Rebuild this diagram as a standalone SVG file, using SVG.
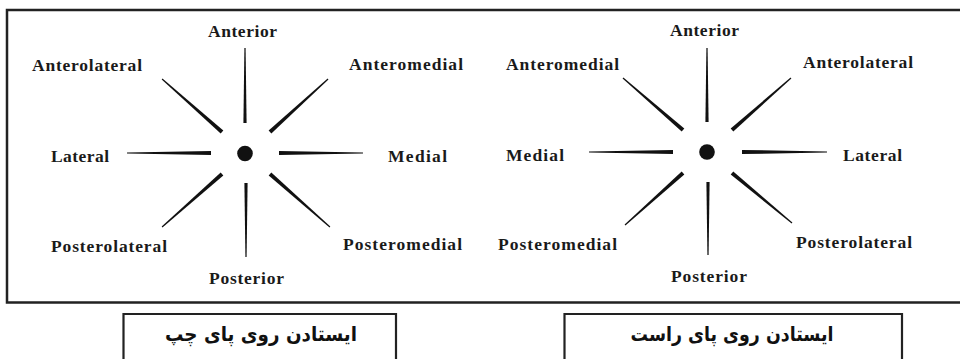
<svg xmlns="http://www.w3.org/2000/svg" width="960" height="359" viewBox="0 0 960 359">
<style>
.lbl{font-family:"Liberation Serif","Times New Roman",serif;font-size:17.5px;font-weight:bold;fill:#1a1a1a}
.fa{font-family:"DejaVu Sans","Noto Sans",sans-serif;font-size:20px;font-weight:bold;fill:#111;text-anchor:middle}
.frame{fill:none;stroke:#222;stroke-width:2.5}
.box{fill:none;stroke:#222;stroke-width:2.2}
.dot{fill:#111}
.spoke{fill:#111}
</style>
<rect width="960" height="359" fill="#fff"/>
<path class="frame" d="M962,10 H7 V302.5 H962"/>

<g id="left-diagram">
  <circle id="left-center" class="dot" cx="245" cy="153.5" r="7.8"/>
  <g id="left-spokes">
    <path class="spoke" transform="translate(245,123) rotate(-90)" d="M0,-1.6 L75,-0.6 L75,0.6 L0,1.6 Z"/>
    <path class="spoke" transform="translate(246,183) rotate(90)" d="M0,-1.6 L74,-0.6 L74,0.6 L0,1.6 Z"/>
    <path class="spoke" transform="translate(211,153) rotate(180)" d="M0,-2 L84,-0.6 L84,0.6 L0,2 Z"/>
    <path class="spoke" transform="translate(279,153)" d="M0,-2 L84,-0.6 L84,0.6 L0,2 Z"/>
    <path class="spoke" transform="translate(222,132) rotate(-138.5)" d="M0,-2 L80,-0.6 L80,0.6 L0,2 Z"/>
    <path class="spoke" transform="translate(270,132) rotate(-42.4)" d="M0,-2 L78.6,-0.6 L78.6,0.6 L0,2 Z"/>
    <path class="spoke" transform="translate(222,174) rotate(138.5)" d="M0,-2 L80,-0.6 L80,0.6 L0,2 Z"/>
    <path class="spoke" transform="translate(270,174) rotate(41.5)" d="M0,-2 L80,-0.6 L80,0.6 L0,2 Z"/>
  </g>
  <g id="left-labels">
    <text class="lbl" x="208" y="37" textLength="69" lengthAdjust="spacing">Anterior</text>
    <text class="lbl" x="32" y="70.5" textLength="110" lengthAdjust="spacing">Anterolateral</text>
    <text class="lbl" x="349" y="70" textLength="114" lengthAdjust="spacing">Anteromedial</text>
    <text class="lbl" x="51" y="162" textLength="58" lengthAdjust="spacing">Lateral</text>
    <text class="lbl" x="388" y="162" textLength="59" lengthAdjust="spacing">Medial</text>
    <text class="lbl" x="51" y="252" textLength="116" lengthAdjust="spacing">Posterolateral</text>
    <text class="lbl" x="343" y="250" textLength="119" lengthAdjust="spacing">Posteromedial</text>
    <text class="lbl" x="209" y="284" textLength="75" lengthAdjust="spacing">Posterior</text>
  </g>
</g>

<g id="right-diagram">
  <circle id="right-center" class="dot" cx="707" cy="152" r="7.8"/>
  <g id="right-spokes">
    <path class="spoke" transform="translate(707,122) rotate(-90)" d="M0,-1.6 L74,-0.6 L74,0.6 L0,1.6 Z"/>
    <path class="spoke" transform="translate(708,182) rotate(90)" d="M0,-1.6 L73,-0.6 L73,0.6 L0,1.6 Z"/>
    <path class="spoke" transform="translate(673,152) rotate(180)" d="M0,-2 L84,-0.6 L84,0.6 L0,2 Z"/>
    <path class="spoke" transform="translate(742,152)" d="M0,-2 L85,-0.6 L85,0.6 L0,2 Z"/>
    <path class="spoke" transform="translate(683,130) rotate(-139.1)" d="M0,-2 L79.4,-0.6 L79.4,0.6 L0,2 Z"/>
    <path class="spoke" transform="translate(732,130) rotate(-41.4)" d="M0,-2 L78.6,-0.6 L78.6,0.6 L0,2 Z"/>
    <path class="spoke" transform="translate(683,173) rotate(138.1)" d="M0,-2 L77.9,-0.6 L77.9,0.6 L0,2 Z"/>
    <path class="spoke" transform="translate(732,173) rotate(39.8)" d="M0,-2 L78.1,-0.6 L78.1,0.6 L0,2 Z"/>
  </g>
  <g id="right-labels">
    <text class="lbl" x="670" y="36" textLength="69" lengthAdjust="spacing">Anterior</text>
    <text class="lbl" x="506" y="70" textLength="113" lengthAdjust="spacing">Anteromedial</text>
    <text class="lbl" x="803" y="68" textLength="110" lengthAdjust="spacing">Anterolateral</text>
    <text class="lbl" x="506" y="161" textLength="58" lengthAdjust="spacing">Medial</text>
    <text class="lbl" x="843" y="161" textLength="59" lengthAdjust="spacing">Lateral</text>
    <text class="lbl" x="498" y="250" textLength="119" lengthAdjust="spacing">Posteromedial</text>
    <text class="lbl" x="796" y="248" textLength="116" lengthAdjust="spacing">Posterolateral</text>
    <text class="lbl" x="671" y="282" textLength="76" lengthAdjust="spacing">Posterior</text>
  </g>
</g>

<g id="caption-left">
  <path class="box" d="M123.5,362 V314 H396 V362"/>
  <text class="fa" x="261" y="341" direction="rtl" textLength="192" lengthAdjust="spacingAndGlyphs">ایستادن روی پای چپ</text>
</g>
<g id="caption-right">
  <path class="box" d="M564.5,362 V314 H902 V362"/>
  <text class="fa" x="732" y="341" direction="rtl" textLength="203" lengthAdjust="spacingAndGlyphs">ایستادن روی پای راست</text>
</g>
</svg>
